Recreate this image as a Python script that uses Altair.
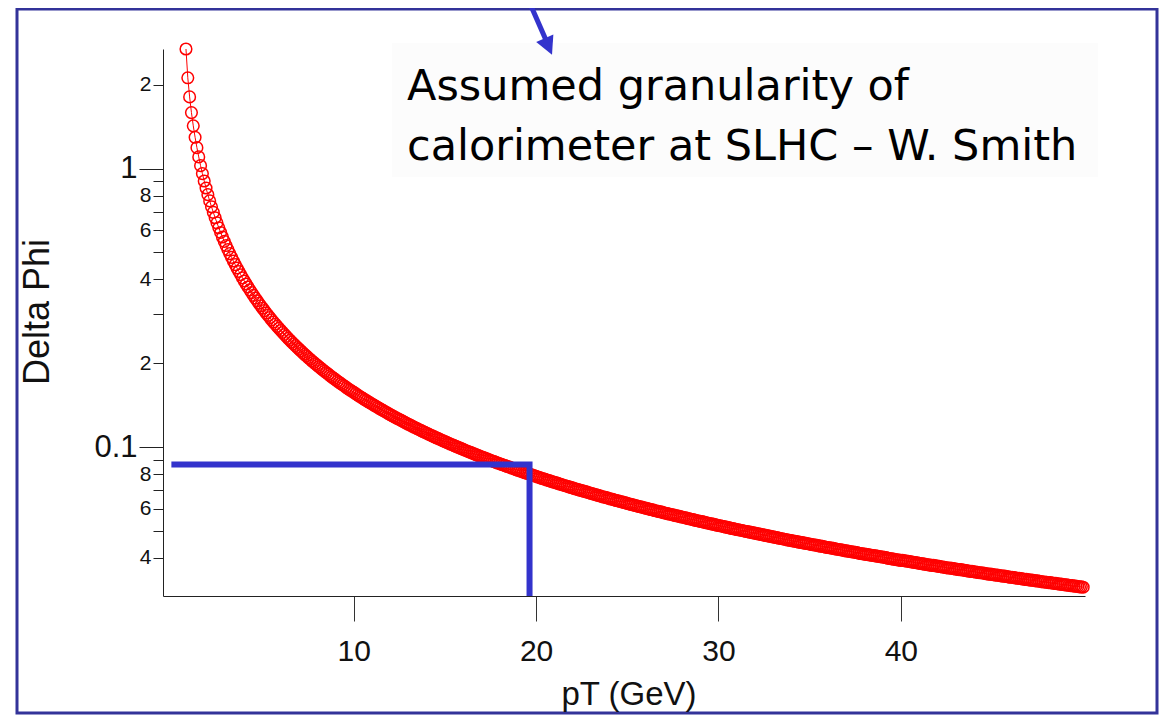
import altair as alt
import pandas as pd

# ---- data ----
pt = [
    0.8, 0.9,
    1.0, 1.1, 1.2, 1.3, 1.4, 1.5, 1.6, 1.7, 1.8, 1.9,
    2.0, 2.1, 2.2, 2.3, 2.4, 2.5, 2.6, 2.7, 2.8, 2.9,
    3.0, 3.1, 3.2, 3.3, 3.4, 3.5, 3.6, 3.7, 3.8, 3.9,
    4.0, 4.1, 4.2, 4.3, 4.4, 4.5, 4.6, 4.7, 4.8, 4.9,
    5.0, 5.1, 5.2, 5.3, 5.4, 5.5, 5.6, 5.7, 5.8, 5.9,
    6.0, 6.1, 6.2, 6.3, 6.4, 6.5, 6.6, 6.7, 6.8, 6.9,
    7.0, 7.1, 7.2, 7.3, 7.4, 7.5, 7.6, 7.7, 7.8, 7.9,
    8.0, 8.1, 8.2, 8.3, 8.4, 8.5, 8.6, 8.7, 8.8, 8.9,
    9.0, 9.1, 9.2, 9.3, 9.4, 9.5, 9.6, 9.7, 9.8, 9.9,
    10.0, 10.1, 10.2, 10.3, 10.4, 10.5, 10.6, 10.7, 10.8, 10.9,
    11.0, 11.1, 11.2, 11.3, 11.4, 11.5, 11.6, 11.7, 11.8, 11.9,
    12.0, 12.1, 12.2, 12.3, 12.4, 12.5, 12.6, 12.7, 12.8, 12.9,
    13.0, 13.1, 13.2, 13.3, 13.4, 13.5, 13.6, 13.7, 13.8, 13.9,
    14.0, 14.1, 14.2, 14.3, 14.4, 14.5, 14.6, 14.7, 14.8, 14.9,
    15.0, 15.1, 15.2, 15.3, 15.4, 15.5, 15.6, 15.7, 15.8, 15.9,
    16.0, 16.1, 16.2, 16.3, 16.4, 16.5, 16.6, 16.7, 16.8, 16.9,
    17.0, 17.1, 17.2, 17.3, 17.4, 17.5, 17.6, 17.7, 17.8, 17.9,
    18.0, 18.1, 18.2, 18.3, 18.4, 18.5, 18.6, 18.7, 18.8, 18.9,
    19.0, 19.1, 19.2, 19.3, 19.4, 19.5, 19.6, 19.7, 19.8, 19.9,
    20.0, 20.1, 20.2, 20.3, 20.4, 20.5, 20.6, 20.7, 20.8, 20.9,
    21.0, 21.1, 21.2, 21.3, 21.4, 21.5, 21.6, 21.7, 21.8, 21.9,
    22.0, 22.1, 22.2, 22.3, 22.4, 22.5, 22.6, 22.7, 22.8, 22.9,
    23.0, 23.1, 23.2, 23.3, 23.4, 23.5, 23.6, 23.7, 23.8, 23.9,
    24.0, 24.1, 24.2, 24.3, 24.4, 24.5, 24.6, 24.7, 24.8, 24.9,
    25.0, 25.1, 25.2, 25.3, 25.4, 25.5, 25.6, 25.7, 25.8, 25.9,
    26.0, 26.1, 26.2, 26.3, 26.4, 26.5, 26.6, 26.7, 26.8, 26.9,
    27.0, 27.1, 27.2, 27.3, 27.4, 27.5, 27.6, 27.7, 27.8, 27.9,
    28.0, 28.1, 28.2, 28.3, 28.4, 28.5, 28.6, 28.7, 28.8, 28.9,
    29.0, 29.1, 29.2, 29.3, 29.4, 29.5, 29.6, 29.7, 29.8, 29.9,
    30.0, 30.1, 30.2, 30.3, 30.4, 30.5, 30.6, 30.7, 30.8, 30.9,
    31.0, 31.1, 31.2, 31.3, 31.4, 31.5, 31.6, 31.7, 31.8, 31.9,
    32.0, 32.1, 32.2, 32.3, 32.4, 32.5, 32.6, 32.7, 32.8, 32.9,
    33.0, 33.1, 33.2, 33.3, 33.4, 33.5, 33.6, 33.7, 33.8, 33.9,
    34.0, 34.1, 34.2, 34.3, 34.4, 34.5, 34.6, 34.7, 34.8, 34.9,
    35.0, 35.1, 35.2, 35.3, 35.4, 35.5, 35.6, 35.7, 35.8, 35.9,
    36.0, 36.1, 36.2, 36.3, 36.4, 36.5, 36.6, 36.7, 36.8, 36.9,
    37.0, 37.1, 37.2, 37.3, 37.4, 37.5, 37.6, 37.7, 37.8, 37.9,
    38.0, 38.1, 38.2, 38.3, 38.4, 38.5, 38.6, 38.7, 38.8, 38.9,
    39.0, 39.1, 39.2, 39.3, 39.4, 39.5, 39.6, 39.7, 39.8, 39.9,
    40.0, 40.1, 40.2, 40.3, 40.4, 40.5, 40.6, 40.7, 40.8, 40.9,
    41.0, 41.1, 41.2, 41.3, 41.4, 41.5, 41.6, 41.7, 41.8, 41.9,
    42.0, 42.1, 42.2, 42.3, 42.4, 42.5, 42.6, 42.7, 42.8, 42.9,
    43.0, 43.1, 43.2, 43.3, 43.4, 43.5, 43.6, 43.7, 43.8, 43.9,
    44.0, 44.1, 44.2, 44.3, 44.4, 44.5, 44.6, 44.7, 44.8, 44.9,
    45.0, 45.1, 45.2, 45.3, 45.4, 45.5, 45.6, 45.7, 45.8, 45.9,
    46.0, 46.1, 46.2, 46.3, 46.4, 46.5, 46.6, 46.7, 46.8, 46.9,
    47.0, 47.1, 47.2, 47.3, 47.4, 47.5, 47.6, 47.7, 47.8, 47.9,
    48.0, 48.1, 48.2, 48.3, 48.4, 48.5, 48.6, 48.7, 48.8, 48.9,
    49.0, 49.1, 49.2, 49.3, 49.4, 49.5, 49.6, 49.7, 49.8, 49.9,
    50.0,
]

delta_phi = [
    2.69, 2.12,
    1.81, 1.59, 1.425, 1.296, 1.190, 1.102, 1.025, 0.960, 0.903, 0.852,
    0.8067, 0.7662, 0.7297, 0.6966, 0.6664, 0.6388, 0.6134, 0.5900, 0.5683, 0.5482,
    0.5295, 0.5119, 0.4955, 0.4802, 0.4659, 0.4523, 0.4396, 0.4275, 0.4161, 0.4053,
    0.3950, 0.3853, 0.3760, 0.3671, 0.3587, 0.3507, 0.3430, 0.3356, 0.3285, 0.3218,
    0.3153, 0.3091, 0.3031, 0.2973, 0.2918, 0.2864, 0.2813, 0.2763, 0.2715, 0.2669,
    0.2624, 0.2581, 0.2539, 0.2499, 0.2459, 0.2421, 0.2384, 0.2349, 0.2314, 0.2280,
    0.2248, 0.2216, 0.2185, 0.2155, 0.2126, 0.2097, 0.2069, 0.2042, 0.2016, 0.1991,
    0.1966, 0.1941, 0.1918, 0.1894, 0.1872, 0.1850, 0.1828, 0.1807, 0.1786, 0.1766,
    0.1747, 0.1727, 0.1709, 0.1690, 0.1672, 0.1655, 0.1637, 0.1620, 0.1604, 0.1588,
    0.1572, 0.1556, 0.1541, 0.1526, 0.1511, 0.1497, 0.1482, 0.1469, 0.1455, 0.1442,
    0.1429, 0.1416, 0.1403, 0.1391, 0.1378, 0.1366, 0.1355, 0.1343, 0.1332, 0.1320,
    0.1309, 0.1298, 0.1288, 0.1277, 0.1267, 0.1257, 0.1247, 0.1237, 0.1227, 0.1218,
    0.1208, 0.1199, 0.1190, 0.1181, 0.1172, 0.1164, 0.1155, 0.1147, 0.1138, 0.1130,
    0.1122, 0.1114, 0.1106, 0.1098, 0.1091, 0.1083, 0.1076, 0.1069, 0.1061, 0.1054,
    0.1047, 0.1040, 0.1033, 0.1026, 0.1020, 0.1013, 0.1007, 0.1000, 0.0994, 0.0988,
    0.0982, 0.0975, 0.0969, 0.0963, 0.0958, 0.0952, 0.0946, 0.0940, 0.0935, 0.0929,
    0.0924, 0.0918, 0.0913, 0.0908, 0.0902, 0.0897, 0.0892, 0.0887, 0.0882, 0.0877,
    0.0872, 0.0867, 0.0863, 0.0858, 0.0853, 0.0849, 0.0844, 0.0840, 0.0835, 0.0831,
    0.0826, 0.0822, 0.0818, 0.0813, 0.0809, 0.0805, 0.0801, 0.0797, 0.0793, 0.0789,
    0.0785, 0.0781, 0.0777, 0.0773, 0.0770, 0.0766, 0.0762, 0.0758, 0.0755, 0.0751,
    0.0748, 0.0744, 0.0741, 0.0737, 0.0734, 0.0730, 0.0727, 0.0724, 0.0720, 0.0717,
    0.0714, 0.0710, 0.0707, 0.0704, 0.0701, 0.0698, 0.0695, 0.0692, 0.0689, 0.0686,
    0.0683, 0.0680, 0.0677, 0.0674, 0.0671, 0.0668, 0.0665, 0.0662, 0.0660, 0.0657,
    0.0654, 0.0651, 0.0649, 0.0646, 0.0643, 0.0641, 0.0638, 0.0636, 0.0633, 0.0631,
    0.0628, 0.0625, 0.0623, 0.0621, 0.0618, 0.0616, 0.0613, 0.0611, 0.0609, 0.0606,
    0.0604, 0.0602, 0.0599, 0.0597, 0.0595, 0.0592, 0.0590, 0.0588, 0.0586, 0.0584,
    0.0581, 0.0579, 0.0577, 0.0575, 0.0573, 0.0571, 0.0569, 0.0567, 0.0565, 0.0563,
    0.0561, 0.0559, 0.0557, 0.0555, 0.0553, 0.0551, 0.0549, 0.0547, 0.0545, 0.0543,
    0.0541, 0.0540, 0.0538, 0.0536, 0.0534, 0.0532, 0.0530, 0.0529, 0.0527, 0.0525,
    0.0523, 0.0522, 0.0520, 0.0518, 0.0516, 0.0515, 0.0513, 0.0511, 0.0510, 0.0508,
    0.0506, 0.0505, 0.0503, 0.0502, 0.0500, 0.0498, 0.0497, 0.0495, 0.0494, 0.0492,
    0.0491, 0.0489, 0.0488, 0.0486, 0.0485, 0.0483, 0.0482, 0.0480, 0.0479, 0.0477,
    0.0476, 0.0474, 0.0473, 0.0471, 0.0470, 0.0469, 0.0467, 0.0466, 0.0464, 0.0463,
    0.0462, 0.0460, 0.0459, 0.0458, 0.0456, 0.0455, 0.0454, 0.0452, 0.0451, 0.0450,
    0.0449, 0.0447, 0.0446, 0.0445, 0.0444, 0.0442, 0.0441, 0.0440, 0.0439, 0.0437,
    0.0436, 0.0435, 0.0434, 0.0433, 0.0431, 0.0430, 0.0429, 0.0428, 0.0427, 0.0425,
    0.0424, 0.0423, 0.0422, 0.0421, 0.0420, 0.0419, 0.0418, 0.0416, 0.0415, 0.0414,
    0.0413, 0.0412, 0.0411, 0.0410, 0.0409, 0.0408, 0.0407, 0.0406, 0.0405, 0.0404,
    0.0403, 0.0402, 0.0401, 0.0399, 0.0398, 0.0397, 0.0396, 0.0395, 0.0394, 0.0393,
    0.0392, 0.0392, 0.0391, 0.0390, 0.0389, 0.0388, 0.0387, 0.0386, 0.0385, 0.0384,
    0.0383, 0.0382, 0.0381, 0.0380, 0.0379, 0.0378, 0.0377, 0.0376, 0.0376, 0.0375,
    0.0374, 0.0373, 0.0372, 0.0371, 0.0370, 0.0369, 0.0368, 0.0368, 0.0367, 0.0366,
    0.0365, 0.0364, 0.0363, 0.0363, 0.0362, 0.0361, 0.0360, 0.0359, 0.0358, 0.0358,
    0.0357, 0.0356, 0.0355, 0.0354, 0.0354, 0.0353, 0.0352, 0.0351, 0.0350, 0.0350,
    0.0349, 0.0348, 0.0347, 0.0347, 0.0346, 0.0345, 0.0344, 0.0344, 0.0343, 0.0342,
    0.0341, 0.0341, 0.0340, 0.0339, 0.0338, 0.0338, 0.0337, 0.0336, 0.0335, 0.0335,
    0.0334, 0.0333, 0.0333, 0.0332, 0.0331, 0.0331, 0.0330, 0.0329, 0.0328, 0.0328,
    0.0327, 0.0326, 0.0326, 0.0325, 0.0324, 0.0324, 0.0323, 0.0322, 0.0322, 0.0321,
    0.0320, 0.0320, 0.0319, 0.0318, 0.0318, 0.0317, 0.0317, 0.0316, 0.0315, 0.0315,
    0.0314,
]

# guide lines (blue) drawn on the plot
guide_pt = [0.0, 19.64, 19.64]
guide_dphi = [0.0867, 0.0867, 0.0292]

# axes
x_domain = [-0.46, 50.1]
y_domain = [0.0292, 2.69]
x_ticks = [10, 20, 30, 40]
y_tick_values = [2, 1, 0.9, 0.8, 0.7, 0.6, 0.5, 0.4, 0.3, 0.2,
                 0.1, 0.09, 0.08, 0.07, 0.06, 0.05, 0.04]
y_tick_labels = ["2", "1", "", "8", "", "6", "", "4", "", "2",
                 "0.1", "", "8", "", "6", "", "4"]
y_major = [1, 0.1]

annotation_lines = ["Assumed granularity of", "calorimeter at SLHC \u2013 W. Smith"]

# ---- build ----
W, H = 922, 547
RED = "#ff0000"
BLUE = "#3333cc"
FRAME = "#333399"
AXFONT = "Liberation Sans"

df = pd.DataFrame({"pT": pt, "dphi": delta_phi})
gdf = pd.DataFrame({"pT": guide_pt, "dphi": guide_dphi, "i": list(range(len(guide_pt)))})
one = pd.DataFrame({"k": [0]})

label_expr = ""
for v, lab in zip(y_tick_values, y_tick_labels):
    label_expr += f"datum.value == {v} ? '{lab}' : "
label_expr += "''"
major_test = " || ".join(f"datum.value == {v}" for v in y_major)

x_enc = alt.X(
    "pT:Q",
    scale=alt.Scale(domain=x_domain, nice=False, zero=False),
    axis=alt.Axis(
        values=x_ticks, title=None, grid=False, tickSize=25, tickColor="#333333",
        domainColor="#222222", labelFont=AXFONT, labelFontSize=30, labelColor="#111111",
        labelPadding=15, labelOverlap=False,
    ),
)
y_enc = alt.Y(
    "dphi:Q",
    scale=alt.Scale(type="log", domain=y_domain, nice=False, zero=False),
    axis=alt.Axis(
        values=y_tick_values, title=None, grid=False, labelExpr=label_expr,
        tickSize={"condition": {"test": major_test, "value": 24}, "value": 10},
        labelFontSize={"condition": {"test": major_test, "value": 31}, "value": 21},
        tickColor="#222222", domainColor="#222222", labelFont=AXFONT,
        labelColor="#111111", labelPadding=2, labelOverlap=False, labelBound=False,
    ),
)

base = alt.Chart(df).encode(x=x_enc, y=y_enc)
curve_line = base.mark_line(color=RED, strokeWidth=1)
curve_pts = base.mark_point(shape="circle", filled=False, color=RED, size=135,
                            strokeWidth=1.5, opacity=1)

guide = alt.Chart(gdf).mark_line(color=BLUE, strokeWidth=6, strokeJoin="miter",
                                  strokeCap="butt").encode(
    x=alt.X("pT:Q"), y=alt.Y("dphi:Q"), order="i:Q")

frame = alt.Chart(one).mark_rect(fillOpacity=0, stroke=FRAME, strokeWidth=3).encode(
    x=alt.value(-146), x2=alt.value(994), y=alt.value(-40), y2=alt.value(664))

box = alt.Chart(one).mark_rect(color="#fcfcfc").encode(
    x=alt.value(229), x2=alt.value(935), y=alt.value(-6), y2=alt.value(128))

ann1 = alt.Chart(one).mark_text(text=annotation_lines[0], font="DejaVu Sans", fontSize=43,
                                align="left", baseline="alphabetic", color="#000000").encode(
    x=alt.value(244), y=alt.value(51))
ann2 = alt.Chart(one).mark_text(text=annotation_lines[1], font="DejaVu Sans", fontSize=43,
                                align="left", baseline="alphabetic", color="#000000").encode(
    x=alt.value(244), y=alt.value(111))

shaft = alt.Chart(one).mark_rule(color=BLUE, strokeWidth=5).encode(
    x=alt.value(368.5), x2=alt.value(382.5), y=alt.value(-42), y2=alt.value(-10))
head = alt.Chart(one).mark_point(
    shape="M0,1 L-0.85,-0.64 L0.85,-0.64 Z", filled=True, color=BLUE, opacity=1,
    size=484, angle=336.4).encode(x=alt.value(384.6), y=alt.value(-4.4))

ytitle = alt.Chart(one).mark_text(text="Delta Phi", font=AXFONT, fontSize=36, angle=270,
                                  align="center", baseline="alphabetic", color="#111111").encode(
    x=alt.value(-114), y=alt.value(263))
xtitle = alt.Chart(one).mark_text(text="pT (GeV)", font=AXFONT, fontSize=33,
                                  align="center", baseline="alphabetic", color="#111111").encode(
    x=alt.value(466), y=alt.value(656))

chart = alt.layer(
    frame, box, ann1, ann2, shaft, head,
    curve_line, curve_pts, guide, ytitle, xtitle,
).properties(
    width=W, height=H,
    autosize=alt.AutoSizeParams(type="none"),
    padding={"left": 155, "top": 41, "right": 74, "bottom": 119},
    background="white",
).configure_view(strokeWidth=0)

chart.save("out.html", embed_options={"renderer": "svg", "actions": False})
